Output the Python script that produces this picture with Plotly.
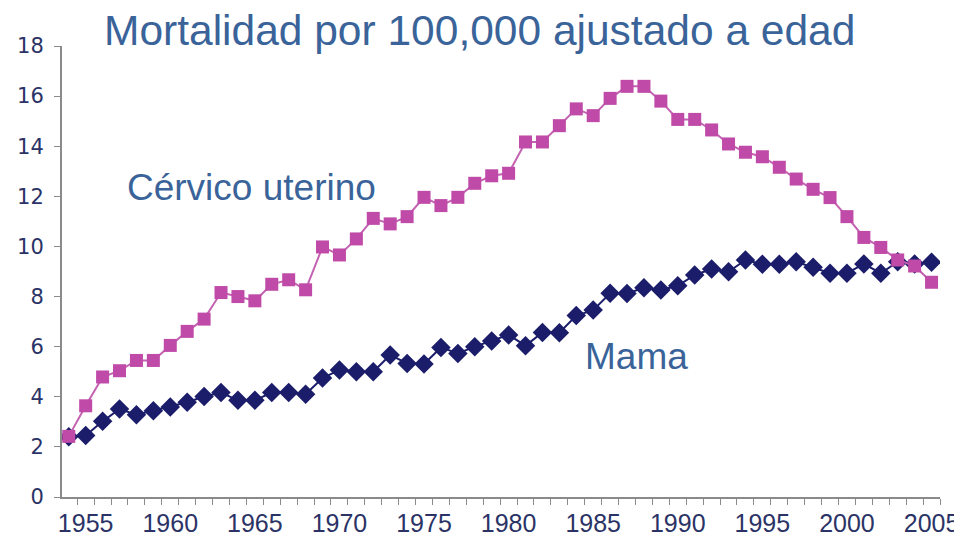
import plotly.graph_objects as go

years = list(range(1954, 2006))
cervico = [2.42, 3.64, 4.79, 5.04, 5.45, 5.45, 6.05, 6.61, 7.10, 8.16,
           8.00, 7.83, 8.49, 8.67, 8.27, 9.98, 9.66, 10.30, 11.12, 10.90,
           11.19, 11.96, 11.63, 11.96, 12.52, 12.82, 12.92, 14.17, 14.17, 14.82,
           15.49, 15.22, 15.91, 16.39, 16.39, 15.80, 15.07, 15.07, 14.65, 14.09,
           13.76, 13.58, 13.16, 12.69, 12.28, 11.95, 11.19, 10.36, 9.96, 9.46,
           9.22, 8.57]
mama = [2.40, 2.45, 3.02, 3.51, 3.28, 3.44, 3.59, 3.78, 4.01, 4.17,
        3.86, 3.86, 4.17, 4.17, 4.10, 4.75, 5.07, 5.00, 5.00, 5.67,
        5.33, 5.31, 5.97, 5.73, 6.00, 6.23, 6.47, 6.04, 6.57, 6.56,
        7.24, 7.46, 8.13, 8.12, 8.35, 8.26, 8.43, 8.86, 9.10, 8.99,
        9.46, 9.29, 9.29, 9.39, 9.17, 8.93, 8.93, 9.30, 8.93, 9.39,
        9.30, 9.37]
x_tick_vals = [1955, 1960, 1965, 1970, 1975, 1980, 1985, 1990, 1995, 2000, 2005]
x_tick_text = [str(v) for v in x_tick_vals]
y_tick_vals = [0, 2, 4, 6, 8, 10, 12, 14, 16, 18]

title_text = "Mortalidad por 100,000 ajustado a edad"
label_cervico = "Cérvico uterino"
label_mama = "Mama"

text_color = "#3a6499"
pink = "#bf4aa8"
navy = "#1b1d6b"

fig = go.Figure()
fig.add_trace(go.Scatter(
    x=years, y=mama, mode="lines+markers", name=label_mama,
    line=dict(color=navy, width=2),
    marker=dict(symbol="diamond", size=15, color=navy),
))
fig.add_trace(go.Scatter(
    x=years, y=cervico, mode="lines+markers", name=label_cervico,
    line=dict(color="#c462b2", width=2),
    marker=dict(symbol="square", size=13, color=pink),
))

fig.update_layout(
    width=954, height=533,
    margin=dict(l=54, r=22, t=38, b=44),
    paper_bgcolor="white", plot_bgcolor="white",
    showlegend=False,
    xaxis=dict(
        range=[1953.6, 2005.5], showgrid=False, zeroline=False, automargin=False,
        showline=True, linecolor="#8a8a8a", linewidth=2,
        tickmode="array", tickvals=x_tick_vals, ticktext=x_tick_text,
        ticks="", ticklabelstandoff=3,
        tickfont=dict(family="Liberation Sans, Arial", size=25, color="#2b3366"),
        minor=dict(ticks="outside", dtick=1, tick0=1953.5, ticklen=6,
                   tickcolor="#8a8a8a", tickwidth=1),
    ),
    yaxis=dict(
        range=[0, 18], showgrid=False, zeroline=False, automargin=False,
        showline=True, linecolor="#8a8a8a", linewidth=2,
        tickmode="array", tickvals=y_tick_vals,
        ticks="outside", ticklen=6, tickcolor="#8a8a8a", ticklabelstandoff=6,
        tickfont=dict(family="DejaVu Sans, Verdana", size=21, color="#2b3366"),
    ),
    annotations=[
        dict(x=0.475, y=1.034, xref="paper", yref="paper", text=title_text,
             showarrow=False, xanchor="center", yanchor="middle",
             font=dict(family="Liberation Sans, Arial", size=42.5, color=text_color)),
        dict(x=1957.3, y=12.35, xref="x", yref="y", text=label_cervico,
             showarrow=False, xanchor="left", yanchor="middle",
             font=dict(family="Liberation Sans, Arial", size=37, color=text_color)),
        dict(x=1984.4, y=5.6, xref="x", yref="y", text=label_mama,
             showarrow=False, xanchor="left", yanchor="middle",
             font=dict(family="Liberation Sans, Arial", size=37, color=text_color)),
    ],
)

fig.write_html("out.html")
